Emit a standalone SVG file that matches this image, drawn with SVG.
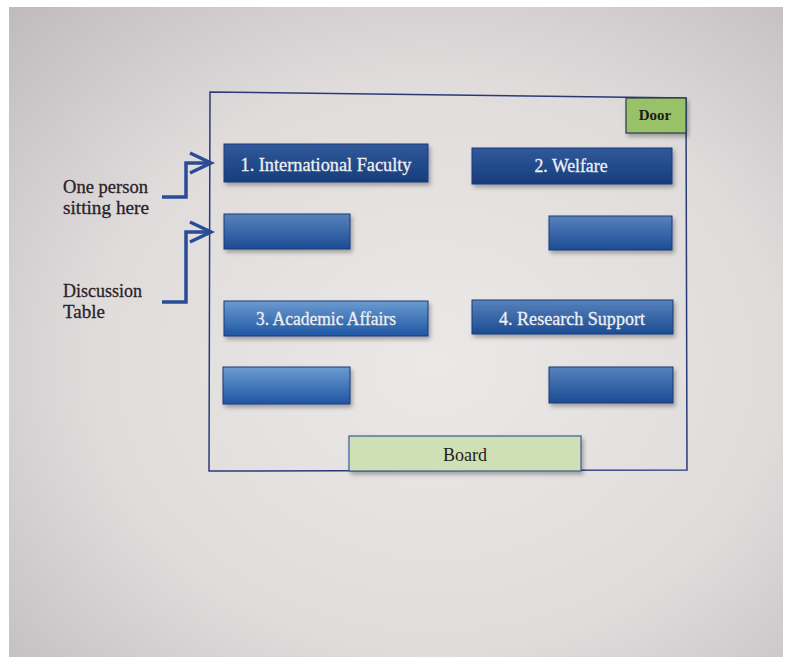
<svg xmlns="http://www.w3.org/2000/svg" width="790" height="658" viewBox="0 0 790 658">
<defs>
<radialGradient id="bg" cx="0.55" cy="0.55" r="0.8">
<stop offset="0" stop-color="#ebe8e8"/>
<stop offset="0.55" stop-color="#e0dcdc"/>
<stop offset="1" stop-color="#bdb8ba"/>
</radialGradient>
<linearGradient id="dark" x1="0" y1="0" x2="0" y2="1">
<stop offset="0" stop-color="#30599a"/>
<stop offset="1" stop-color="#173d7d"/>
</linearGradient>
<linearGradient id="mid" x1="0" y1="0" x2="0" y2="1">
<stop offset="0" stop-color="#5782bc"/>
<stop offset="1" stop-color="#1c4c94"/>
</linearGradient>
<linearGradient id="light" x1="0" y1="0" x2="0" y2="1">
<stop offset="0" stop-color="#6c9bd0"/>
<stop offset="1" stop-color="#1e56a3"/>
</linearGradient>
<filter id="sh" x="-5%" y="-10%" width="115%" height="140%">
<feDropShadow dx="2" dy="3" stdDeviation="2" flood-color="#000" flood-opacity="0.3"/>
</filter>
</defs>
<style>
.tbl{stroke:#1a3a78;stroke-width:1;filter:url(#sh)}
.lbl{font-family:"Liberation Serif","DejaVu Serif",serif;font-size:18px;fill:#eef0f2;text-anchor:middle;stroke:#eef0f2;stroke-width:0.3}
.side{font-family:"Liberation Serif","DejaVu Serif",serif;font-size:19px;fill:#2a2228;stroke:#2a2228;stroke-width:0.3}
.arr{fill:none;stroke:#2a4c95;stroke-width:3.5;stroke-linejoin:miter}
</style>
<rect x="0" y="0" width="790" height="658" fill="#ffffff"/>
<rect x="9" y="7" width="774" height="650" fill="url(#bg)"/>

<g id="room">
<polygon points="210,92 686,98 687,470 209,471" fill="none" stroke="#2a3a78" stroke-width="1.5"/>
</g>

<g id="door">
<rect x="626" y="98" width="60" height="35" fill="#98c168" stroke="#2a3a50" stroke-width="1.2" filter="url(#sh)"/>
<text x="655" y="120" font-family="Liberation Serif, DejaVu Serif, serif" font-size="15" font-weight="bold" fill="#1a1a1a" text-anchor="middle">Door</text>
</g>

<g id="table1">
<rect class="tbl" x="224" y="144" width="204" height="38" fill="url(#dark)"/>
<text class="lbl" x="326" y="171" textLength="171" lengthAdjust="spacingAndGlyphs">1. International Faculty</text>
</g>
<g id="table1b">
<rect class="tbl" x="224" y="214" width="126" height="35" fill="url(#mid)"/>
</g>

<g id="table2">
<rect class="tbl" x="472" y="148" width="200" height="36" fill="url(#dark)"/>
<text class="lbl" x="571" y="172" textLength="73" lengthAdjust="spacingAndGlyphs">2. Welfare</text>
</g>
<g id="table2b">
<rect class="tbl" x="549" y="216" width="123" height="34" fill="url(#mid)"/>
</g>

<g id="table3">
<rect class="tbl" x="224" y="301" width="204" height="35" fill="url(#light)"/>
<text class="lbl" x="326" y="325" textLength="140" lengthAdjust="spacingAndGlyphs">3. Academic Affairs</text>
</g>
<g id="table3b">
<rect class="tbl" x="223" y="367" width="127" height="37" fill="url(#light)"/>
</g>

<g id="table4">
<rect class="tbl" x="472" y="300" width="201" height="34" fill="url(#mid)"/>
<text class="lbl" x="572" y="325" textLength="146" lengthAdjust="spacingAndGlyphs">4. Research Support</text>
</g>
<g id="table4b">
<rect class="tbl" x="549" y="367" width="124" height="36" fill="url(#mid)"/>
</g>

<g id="board">
<rect x="349" y="436" width="232" height="35" fill="#cfe0b4" stroke="#3a5a9a" stroke-width="1.2" filter="url(#sh)"/>
<text x="465" y="461" font-family="Liberation Serif, DejaVu Serif, serif" font-size="18" fill="#1e1e22" text-anchor="middle" textLength="44" lengthAdjust="spacingAndGlyphs">Board</text>
</g>

<g id="labels">
<text class="side" x="63" y="193" textLength="85" lengthAdjust="spacingAndGlyphs">One person</text>
<text class="side" x="63" y="214" textLength="86" lengthAdjust="spacingAndGlyphs">sitting here</text>
<text class="side" x="63" y="297" textLength="79" lengthAdjust="spacingAndGlyphs">Discussion</text>
<text class="side" x="63" y="318">Table</text>
</g>

<g id="connectors">
<polyline class="arr" points="162,197 186,197 186,163 210,163"/>
<polyline class="arr" points="190,153 211,163 190,173"/>
<polyline class="arr" points="162,302 186,302 186,232 210,232"/>
<polyline class="arr" points="190,222 211,232 190,242"/>
</g>
</svg>
